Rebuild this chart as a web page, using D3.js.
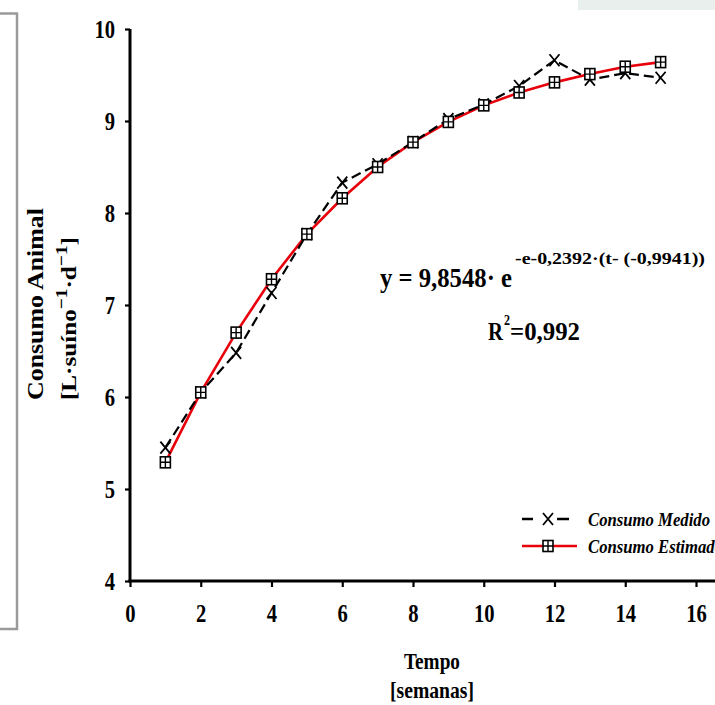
<!DOCTYPE html>
<html><head><meta charset="utf-8">
<script src="https://cdn.jsdelivr.net/npm/d3@7"></script>
<style>
body{margin:0;background:#fff;}
svg{display:block;}
text{font-family:"Liberation Serif","Times New Roman",serif;font-weight:bold;fill:#000;}
</style></head>
<body><svg id="c" width="715" height="705"></svg>
<script>
const weeks = [1,2,3,4,5,6,7,8,9,10,11,12,13,14,15];
const medido = [5.45,6.05,6.48,7.13,7.77,8.33,8.53,8.77,9.02,9.18,9.38,9.66,9.45,9.52,9.47];
const estimado = [5.29,6.05,6.70,7.28,7.77,8.16,8.50,8.77,8.99,9.17,9.31,9.42,9.51,9.59,9.64];
const xTicks = [0,2,4,6,8,10,12,14,16];
const yTicks = [4,5,6,7,8,9,10];
const seriesNames = ["Consumo Medido","Consumo Estimado"];

const svg = d3.select("#c");
const x = d3.scaleLinear().domain([0,16]).range([130,696]);
const y = d3.scaleLinear().domain([4,10]).range([581,29]);

// decorations
svg.append("rect").attr("x",578).attr("y",-2).attr("width",140).attr("height",12).attr("fill","#e8efed");
svg.append("path").attr("d","M-2,13.5 H17 V629 H-2").attr("fill","none").attr("stroke","#9a9a9a").attr("stroke-width",2.5);

// axes
const gy = svg.append("g").attr("transform","translate(130,0)")
  .call(d3.axisLeft(y).tickValues(yTicks).tickSize(5).tickPadding(10).tickFormat(d3.format("d")));
const gx = svg.append("g").attr("transform","translate(0,581)")
  .call(d3.axisBottom(x).tickValues(xTicks).tickSize(6).tickPadding(17).tickFormat(d3.format("d")));
[gx,gy].forEach(g=>{
  g.attr("font-family",null).attr("font-size",null);
  g.select(".domain").remove();
  g.selectAll(".tick line").attr("stroke","#000").attr("stroke-width",2.2);
  g.selectAll(".tick text").style("font-size","25px")
    .attr("textLength",d=>String(d).length*10.3).attr("lengthAdjust","spacingAndGlyphs");
});
gy.selectAll(".tick text").attr("dy","0.33em");
gx.selectAll(".tick text").attr("dy","0.71em").attr("x",d=>-String(d).length*10.3/2).attr("text-anchor","start");
svg.append("path").attr("d",`M130,${y(10)}V${y(4)}`).attr("stroke","#000").attr("stroke-width",3);
svg.append("path").attr("d",`M128.5,${y(4)}H715`).attr("stroke","#000").attr("stroke-width",3);

// lines
const line = d3.line().x((d,i)=>x(weeks[i])).y(d=>y(d));
svg.append("path").datum(estimado).attr("d",line).attr("fill","none").attr("stroke","#e8000b").attr("stroke-width",2.6);
svg.append("path").datum(medido).attr("d",line).attr("fill","none").attr("stroke","#000").attr("stroke-width",2.2).attr("stroke-dasharray","10,5");

function xMark(g,cx,cy){
  g.append("path").attr("d",`M${cx-5},${cy-6}L${cx+5},${cy+6}M${cx+5},${cy-6}L${cx-5},${cy+6}`).attr("stroke","#000").attr("stroke-width",1.8).attr("fill","none");
}
function sqMark(g,cx,cy){
  g.append("rect").attr("x",cx-5).attr("y",cy-5.5).attr("width",10).attr("height",11).attr("fill","#fff").attr("stroke","#000").attr("stroke-width",1.6);
  g.append("path").attr("d",`M${cx},${cy-5.5}V${cy+5.5}M${cx-5},${cy}H${cx+5}`).attr("stroke","#000").attr("stroke-width",1.4);
}
const gm = svg.append("g");
medido.forEach((v,i)=>xMark(gm,x(weeks[i]),y(v)));
estimado.forEach((v,i)=>sqMark(gm,x(weeks[i]),y(v)));

// y title line 1
svg.append("text").attr("transform","translate(43,304) rotate(-90)").attr("text-anchor","middle")
  .style("font-size","23px").attr("textLength",192).attr("lengthAdjust","spacingAndGlyphs").text("Consumo Animal");
// y title line 2
const t2 = svg.append("text").attr("transform","translate(76,400) rotate(-90)").style("font-size","22px")
  .attr("textLength",163).attr("lengthAdjust","spacingAndGlyphs");
t2.append("tspan").text("[L·suíno");
t2.append("tspan").attr("dy",-9).style("font-size","17px").text("−1");
t2.append("tspan").attr("dy",9).text("·d");
t2.append("tspan").attr("dy",-9).style("font-size","17px").text("−1");
t2.append("tspan").attr("dy",9).text("]");

// x title
svg.append("text").attr("x",432).attr("y",669).attr("text-anchor","middle").style("font-size","23px")
  .attr("textLength",56).attr("lengthAdjust","spacingAndGlyphs").text("Tempo");
svg.append("text").attr("x",432).attr("y",698).attr("text-anchor","middle").style("font-size","23px")
  .attr("textLength",84).attr("lengthAdjust","spacingAndGlyphs").text("[semanas]");

// equation
svg.append("text").attr("x",380).attr("y",287).style("font-size","27px")
  .attr("textLength",132).attr("lengthAdjust","spacingAndGlyphs").text("y = 9,8548· e");
svg.append("text").attr("x",515).attr("y",264).style("font-size","17px")
  .attr("textLength",190).attr("lengthAdjust","spacingAndGlyphs").text("-e-0,2392·(t- (-0,9941))");
svg.append("text").attr("x",488).attr("y",340).style("font-size","25px")
  .attr("textLength",15).attr("lengthAdjust","spacingAndGlyphs").text("R");
svg.append("text").attr("x",504).attr("y",325).style("font-size","15px")
  .attr("textLength",6).attr("lengthAdjust","spacingAndGlyphs").text("2");
svg.append("text").attr("x",510).attr("y",340).style("font-size","25px")
  .attr("textLength",70).attr("lengthAdjust","spacingAndGlyphs").text("=0,992");

// legend
const lg = svg.append("g");
lg.append("path").attr("d","M522,519H533M557,519H569").attr("stroke","#000").attr("stroke-width",2.4);
xMark(lg,548,519);
lg.append("path").attr("d","M522,546H577").attr("stroke","#e8000b").attr("stroke-width",2.6);
sqMark(lg,548,546);
const lens = [122,135];
lg.selectAll("text.l").data(seriesNames).enter().append("text").attr("x",588).attr("y",(d,i)=>526+i*27)
  .style("font-style","italic").style("font-size","19px")
  .attr("textLength",(d,i)=>lens[i]).attr("lengthAdjust","spacingAndGlyphs").text(d=>d);
</script></body></html>
